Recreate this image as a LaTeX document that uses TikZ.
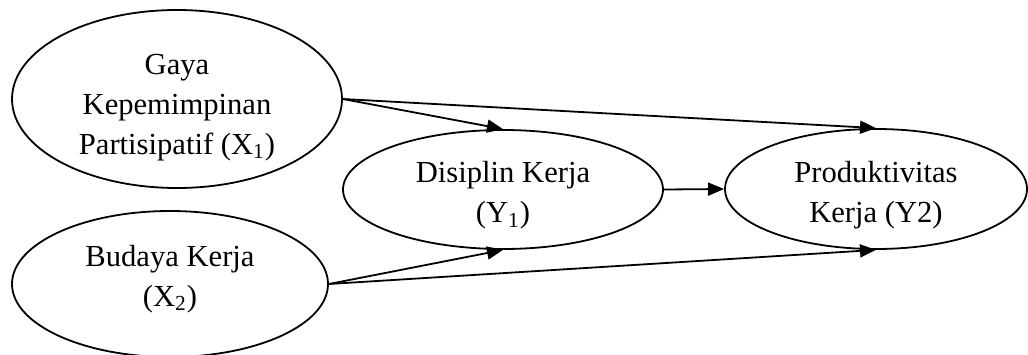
\documentclass[tikz,border=0pt]{standalone}
\usepackage{fontspec}
\setmainfont{Liberation Serif}
\usetikzlibrary{arrows.meta,shapes.geometric,positioning}

\begin{document}
\begin{tikzpicture}[->,>={Triangle[length=8pt,width=6.5pt]},x=0.5pt,y=-0.5pt,
  line width=0.9pt,font=\fontsize{15.3}{20}\selectfont]
  \tikzstyle{every node}=[ellipse,draw,inner sep=0pt,align=center]

  \useasboundingbox (0,0) rectangle (1028,354);

  % struts nudge the text a little lower (or higher) inside the ellipses
  \node[minimum width=165pt,minimum height=89pt] (X1) at (177,99)
    {\rule{0pt}{18.4pt}Gaya\\Kepemimpinan\\Partisipatif (X\textsubscript{1})};
  \node[minimum width=158pt,minimum height=73pt] (X2) at (170,284)
    {Budaya Kerja\\(X\textsubscript{2})\rule[-8.4pt]{0pt}{0pt}};
  \node[minimum width=160pt,minimum height=59.5pt] (Y1) at (503,189.5)
    {\rule{0pt}{16.6pt}Disiplin Kerja\\(Y\textsubscript{1})};
  \node[minimum width=151pt,minimum height=60pt] (Y2) at (876,189)
    {\rule{0pt}{16.6pt}Produktivitas\\Kerja (Y2)};

  \draw (X1.east) -- (Y1.north);
  \draw (X1.east) -- (Y2.north);
  \draw (X2.east) -- (Y1.south);
  \draw (X2.east) -- (Y2.south);
  \draw (Y1.east) -- (Y2.west);
\end{tikzpicture}
\end{document}
